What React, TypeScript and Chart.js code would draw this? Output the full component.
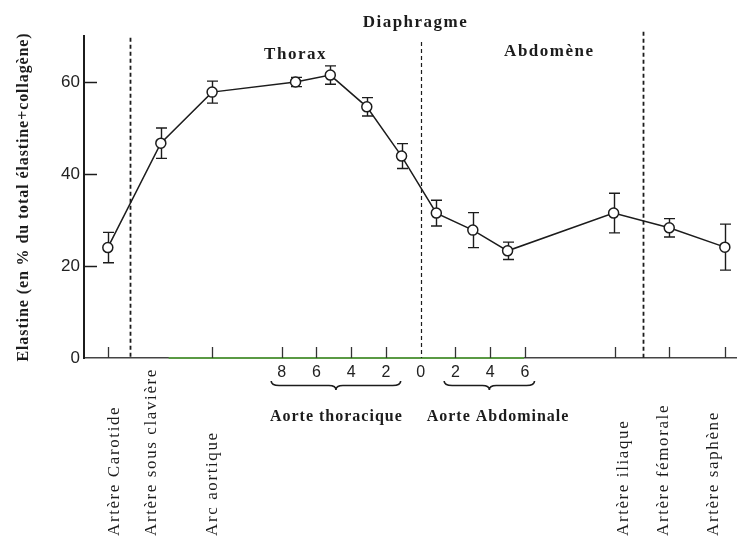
import React, { useEffect, useRef } from "react";
import { Chart, registerables } from "chart.js";

Chart.register(...registerables);

// ---- data ----
const siteNames = [
  "Artère Carotide",
  "Artère sous clavière",
  "Arc aortique",
  "Aorte thoracique 7",
  "Aorte thoracique 5",
  "Aorte thoracique 3",
  "Aorte thoracique 1",
  "Aorte abdominale 1",
  "Aorte abdominale 3",
  "Aorte abdominale 5",
  "Artère iliaque",
  "Artère fémorale",
  "Artère saphène",
];
const sitePositions = [-18, -14.95, -12, -7.2, -5.2, -3.1, -1.1, 0.9, 3.0, 5.0, 11.1, 14.3, 17.5];
const elastinMeans = [24, 46.7, 57.8, 60, 61.5, 54.6, 43.9, 31.5, 27.8, 23.3, 31.5, 28.3, 24.1];
const elastinErrors = [3.3, 3.3, 2.4, 1, 2, 2, 2.7, 2.8, 3.8, 1.9, 4.3, 2, 5];

const yTickValues = [0, 20, 40, 60];
const segmentTickValues = [-8, -6, -4, -2, 0, 2, 4, 6];
const axisMarkPositions = [-18, -12, -8, -6, -4, -2, 2, 4, 6, 11.2, 14.3, 17.5];

const arteryLabels = [
  "Artère Carotide",
  "Artère sous clavière",
  "Arc aortique",
  "Artère iliaque",
  "Artère fémorale",
  "Artère saphène",
];
const arteryLabelPositions = [-17.6, -15.5, -12.0, 11.65, 14.0, 16.85];

const dividerPositions = [-16.7, 0, 12.8];
const dividerTops = [69.6, 68.7, 70.9];

const segmentNames = ["Aorte thoracique", "Aorte Abdominale"];
const braceStarts = [-8.6, 1.35];
const braceEnds = [-1.15, 6.55];
const segmentNameCenters = [-4.85, 4.45];

const regionLabels = ["Diaphragme", "Thorax", "Abdomène"];
const regionLabelX = [-0.3, -7.2, 7.4];
const regionLabelY = [72.9, 65.9, 66.5];

const greenStart = -14.5;
const greenEnd = 5.95;

const yTitle = "Elastine (en % du total élastine+collagène)";

const X_MIN = -19.37;
const X_MAX = 18.17;
const Y_MAX = 70;

const INK = "#1c1c1c";
const SERIF = '"Liberation Serif", "Times New Roman", serif';
const SANS = '"Liberation Sans", Arial, sans-serif';

const overlayPlugin = {
  id: "overlay",
  beforeDatasetsDraw(chart: any) {
    const { ctx, chartArea } = chart;
    const xs = chart.scales.x;
    const ys = chart.scales.y;
    ctx.save();
    // green portion of baseline
    ctx.strokeStyle = "#5a9a44";
    ctx.lineWidth = 2;
    ctx.beginPath();
    ctx.moveTo(xs.getPixelForValue(greenStart), chartArea.bottom);
    ctx.lineTo(xs.getPixelForValue(greenEnd), chartArea.bottom);
    ctx.stroke();

    // dashed dividers
    ctx.strokeStyle = INK;
    dividerPositions.forEach((p, i) => {
      ctx.lineWidth = i === 1 ? 1.2 : 1.8;
      ctx.setLineDash([4, 3]);
      const x = Math.round(xs.getPixelForValue(p)) + 0.5;
      ctx.beginPath();
      ctx.moveTo(x, ys.getPixelForValue(dividerTops[i]));
      ctx.lineTo(x, chartArea.bottom);
      ctx.stroke();
    });
    ctx.setLineDash([]);

    // x axis tick marks (inward)
    ctx.lineWidth = 1.3;
    ctx.strokeStyle = "#333";
    axisMarkPositions.forEach((p) => {
      const x = Math.round(xs.getPixelForValue(p)) + 0.5;
      ctx.beginPath();
      ctx.moveTo(x, chartArea.bottom);
      ctx.lineTo(x, chartArea.bottom - 11);
      ctx.stroke();
    });

    // y axis tick marks (inward)
    ctx.lineWidth = 1.5;
    ctx.strokeStyle = INK;
    yTickValues.forEach((v) => {
      if (v === 0) return;
      const y = Math.round(ys.getPixelForValue(v)) + 0.5;
      ctx.beginPath();
      ctx.moveTo(chartArea.left, y);
      ctx.lineTo(chartArea.left + 13, y);
      ctx.stroke();
    });

    // error bars
    ctx.lineWidth = 1.4;
    ctx.strokeStyle = INK;
    sitePositions.forEach((p, i) => {
      const x = Math.round(xs.getPixelForValue(p)) + 0.5;
      const yt = ys.getPixelForValue(elastinMeans[i] + elastinErrors[i]);
      const yb = ys.getPixelForValue(elastinMeans[i] - elastinErrors[i]);
      ctx.beginPath();
      ctx.moveTo(x, yt);
      ctx.lineTo(x, yb);
      ctx.moveTo(x - 5.5, yt);
      ctx.lineTo(x + 5.5, yt);
      ctx.moveTo(x - 5.5, yb);
      ctx.lineTo(x + 5.5, yb);
      ctx.stroke();
    });
    ctx.restore();
  },
  afterDraw(chart: any) {
    const { ctx, chartArea } = chart;
    const xs = chart.scales.x;
    const ys = chart.scales.y;
    ctx.save();
    ctx.fillStyle = INK;
    ctx.strokeStyle = INK;

    // region labels (top)
    ctx.font = `bold 17px ${SERIF}`;
    (ctx as any).letterSpacing = "1.5px";
    ctx.textAlign = "center";
    ctx.textBaseline = "middle";
    regionLabels.forEach((t, i) => {
      ctx.fillText(t, xs.getPixelForValue(regionLabelX[i]), ys.getPixelForValue(regionLabelY[i]));
    });

    // braces
    ctx.lineWidth = 1.6;
    braceStarts.forEach((s, i) => {
      const x1 = xs.getPixelForValue(s);
      const x2 = xs.getPixelForValue(braceEnds[i]);
      const xm = (x1 + x2) / 2;
      const y0 = chartArea.bottom + 23;
      const h = 9;
      const ym = y0 + h / 2;
      ctx.beginPath();
      ctx.moveTo(x1, y0);
      ctx.quadraticCurveTo(x1, ym, x1 + 8, ym);
      ctx.lineTo(xm - 7, ym);
      ctx.quadraticCurveTo(xm, ym, xm, y0 + h);
      ctx.quadraticCurveTo(xm, ym, xm + 7, ym);
      ctx.lineTo(x2 - 8, ym);
      ctx.quadraticCurveTo(x2, ym, x2, y0);
      ctx.stroke();
    });

    // segment names
    ctx.font = `bold 16px ${SERIF}`;
    (ctx as any).letterSpacing = "1px";
    ctx.textAlign = "center";
    ctx.textBaseline = "middle";
    segmentNames.forEach((t, i) => {
      ctx.fillText(t, xs.getPixelForValue(segmentNameCenters[i]), chartArea.bottom + 59);
    });

    // rotated artery labels
    ctx.font = `17px ${SERIF}`;
    (ctx as any).letterSpacing = "1.6px";
    ctx.textAlign = "left";
    ctx.textBaseline = "middle";
    arteryLabels.forEach((t, i) => {
      ctx.save();
      ctx.translate(xs.getPixelForValue(arteryLabelPositions[i]), chartArea.bottom + 178);
      ctx.rotate(-Math.PI / 2);
      ctx.fillText(t, 0, 0);
      ctx.restore();
    });

    // y title
    ctx.font = `bold 16px ${SERIF}`;
    (ctx as any).letterSpacing = "0.9px";
    ctx.textAlign = "center";
    ctx.textBaseline = "middle";
    ctx.save();
    ctx.translate(24, ys.getPixelForValue(35));
    ctx.rotate(-Math.PI / 2);
    ctx.fillText(yTitle, 0, 0);
    ctx.restore();

    ctx.restore();
  },
};

export default function App() {
  const canvasRef = useRef<HTMLCanvasElement | null>(null);

  useEffect(() => {
    if (!canvasRef.current) return;
    const chart = new Chart(canvasRef.current, {
      type: "line",
      data: {
        labels: siteNames,
        datasets: [
          {
            label: "Elastine",
            data: sitePositions.map((p, i) => ({ x: p, y: elastinMeans[i] })),
            borderColor: INK,
            borderWidth: 1.5,
            pointRadius: 5,
            pointBackgroundColor: "#ffffff",
            pointBorderColor: INK,
            pointBorderWidth: 1.5,
            tension: 0,
            fill: false,
          },
        ],
      },
      options: {
        animation: false,
        responsive: true,
        maintainAspectRatio: false,
        layout: { padding: { top: 36, right: 2, left: 0, bottom: 0 } },
        plugins: {
          legend: { display: false },
          tooltip: { enabled: false },
          title: { display: false },
        },
        scales: {
          x: {
            type: "linear",
            min: X_MIN,
            max: X_MAX,
            afterFit: (scale: any) => {
              scale.height = 180;
            },
            afterBuildTicks: (scale: any) => {
              scale.ticks = segmentTickValues.map((v) => ({ value: v }));
            },
            grid: { display: false, drawTicks: false },
            border: { display: true, color: "#444", width: 1.5 },
            ticks: {
              autoSkip: false,
              maxRotation: 0,
              minRotation: 0,
              padding: 5,
              color: "#222",
              font: { family: SANS, size: 16 },
              callback: (v: any) => String(Math.abs(Number(v))),
            },
          },
          y: {
            min: 0,
            max: Y_MAX,
            afterFit: (scale: any) => {
              scale.width = 84;
            },
            afterBuildTicks: (scale: any) => {
              scale.ticks = yTickValues.map((v) => ({ value: v }));
            },
            grid: { display: false, drawTicks: false },
            border: { display: true, color: INK, width: 2 },
            ticks: {
              padding: 4,
              color: "#222",
              font: { family: SANS, size: 17 },
            },
          },
        },
      },
      plugins: [overlayPlugin],
    } as any);
    return () => chart.destroy();
  }, []);

  return (
    <div
      style={{
        position: "fixed",
        left: 0,
        top: 0,
        width: 743,
        height: 538,
        background: "#ffffff",
      }}
    >
      <canvas ref={canvasRef} />
    </div>
  );
}
